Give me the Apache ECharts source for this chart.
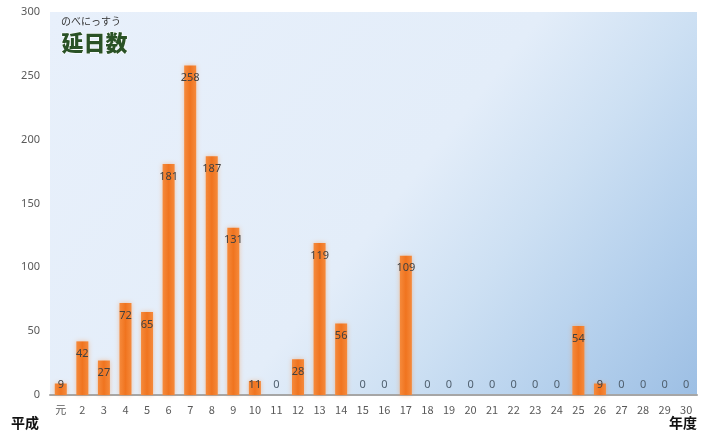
<!DOCTYPE html>
<html>
<head>
<meta charset="utf-8">
<script src="https://cdn.jsdelivr.net/npm/echarts@6/dist/echarts.min.js"></script>
<style>html,body{margin:0;padding:0;background:#fff}#c{width:702px;height:438px}</style>
</head>
<body>
<div id="c"></div>
<script>
const categories = ['元','2','3','4','5','6','7','8','9','10','11','12','13','14','15','16','17','18','19','20','21','22','23','24','25','26','27','28','29','30'];
const values = [9,42,27,72,65,181,258,187,131,11,0,28,119,56,0,0,109,0,0,0,0,0,0,0,54,9,0,0,0,0];
const yTicks = [0,50,100,150,200,250,300];

const chart = echarts.init(document.getElementById('c'), null, {renderer:'canvas'});
const data = values.map(v => ({
  value: v,
  label: v < 20
    ? {position:'insideBottom', distance:5, color: v === 0 ? '#50606f' : '#404040'}
    : {position:'insideTop', distance:7}
}));
chart.setOption({
  backgroundColor:'#ffffff',
  animation:false,
  grid:{
    left:50, right:5, top:12, bottom:43, show:true, borderWidth:0,
    backgroundColor:{type:'linear', x:0, y:0, x2:0.9, y2:1.21, colorStops:[
      {offset:0, color:'#e8f0fb'},
      {offset:0.52, color:'#e3edf9'},
      {offset:0.68, color:'#cde0f3'},
      {offset:0.85, color:'#b3cfec'},
      {offset:1, color:'#9dbfe4'}
    ]}
  },
  xAxis:{
    type:'category', data:categories,
    axisLine:{show:true, lineStyle:{color:'#a6a6a6', width:2}},
    axisTick:{show:false},
    axisLabel:{color:'#595959', fontSize:11, margin:9, fontFamily:'Noto Sans CJK JP'}
  },
  yAxis:{
    type:'value', min:yTicks[0], max:yTicks[yTicks.length-1], interval:50,
    axisLine:{show:false}, axisTick:{show:false}, splitLine:{show:false},
    axisLabel:{color:'#595959', fontSize:11, margin:10, fontFamily:'Noto Sans'}
  },
  series:[{
    type:'bar', data:data, barWidth:12,
    itemStyle:{
      color:{type:'linear', x:0, y:0, x2:1, y2:0, colorStops:[
        {offset:0, color:'#f58a3c'},{offset:0.5, color:'#f0741f'},{offset:1, color:'#f58a3c'}
      ]},
      shadowBlur:5, shadowColor:'rgba(245,140,60,0.45)'
    },
    label:{show:true, color:'#404040', fontSize:11, fontFamily:'Noto Sans'}
  }],
  graphic:[
    {type:'text', left:61, top:16, style:{text:'のべにっすう', fill:'#333333', font:'10px "Noto Sans CJK JP"'}},
    {type:'text', left:61, top:31, style:{text:'延日数', fill:'#2a5226', font:'900 22px "Noto Sans CJK JP"', stroke:'#ffffff', lineWidth:1}},
    {type:'text', left:11, top:416, style:{text:'平成', fill:'#111111', font:'bold 14px "Noto Sans CJK JP"'}},
    {type:'text', right:5, top:416, style:{text:'年度', fill:'#111111', font:'bold 14px "Noto Sans CJK JP"'}}
  ]
});
</script>
</body>
</html>
